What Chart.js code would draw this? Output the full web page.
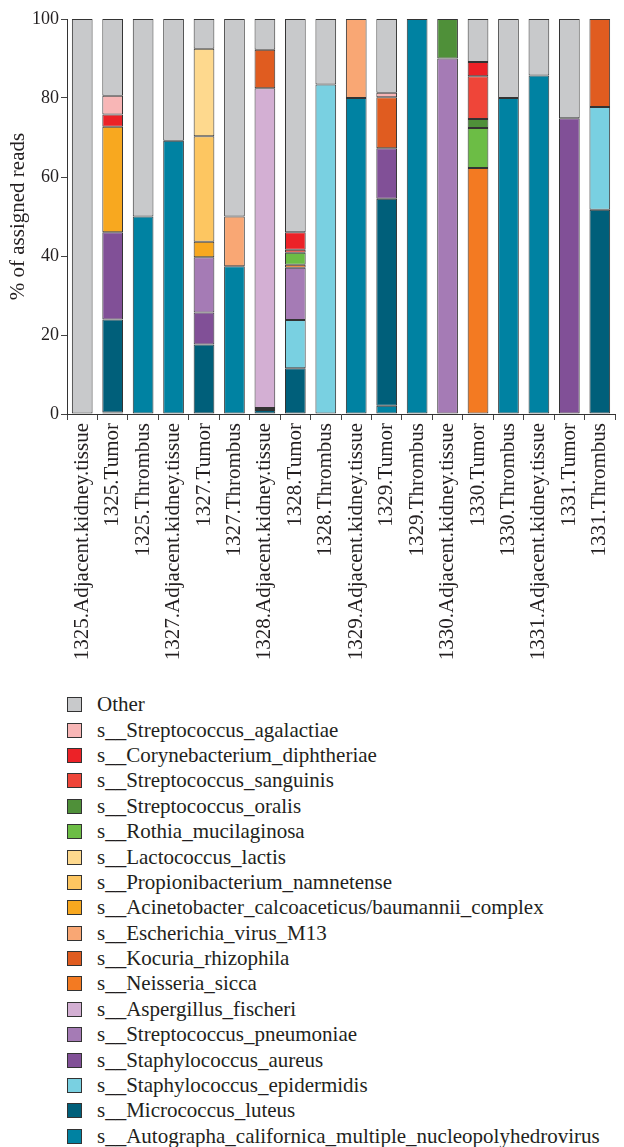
<!DOCTYPE html>
<html lang="en">
<head>
    <meta charset="UTF-8">
    <title>Assigned reads by sample</title>
    <script src="https://cdn.jsdelivr.net/npm/chart.js"></script>
    <style>
        body {
            margin: 0;
            background: #fff;
            overflow: hidden;
        }

        /* chart is a touch wider than the window, like the figure */
        #chart-container {
            position: relative;
            width: 628px;
            height: 670px;
        }

        #legend {
            position: absolute;
            left: 67px;
            top: 692px;
            margin: 0;
            padding: 0;
            list-style: none;
            font-family: "Liberation Serif", serif;
            font-size: 21px;
            color: #231f20;
        }

        #legend li {
            height: 25.4px;
            display: flex;
            align-items: center;
            white-space: nowrap;
        }

        #legend .box {
            width: 13px;
            height: 13px;
            border: 1px solid #333;
            margin-right: 15px;
            flex: none;
        }
    </style>
</head>
<body>

    <div id="chart-container">
        <canvas id="readsChart"></canvas>
    </div>
    <ul id="legend"></ul>

    <script>
        // samples on the x axis
        const samples = [
            '1325.Adjacent.kidney.tissue', '1325.Tumor', '1325.Thrombus',
            '1327.Adjacent.kidney.tissue', '1327.Tumor', '1327.Thrombus',
            '1328.Adjacent.kidney.tissue', '1328.Tumor', '1328.Thrombus',
            '1329.Adjacent.kidney.tissue', '1329.Tumor', '1329.Thrombus',
            '1330.Adjacent.kidney.tissue', '1330.Tumor', '1330.Thrombus',
            '1331.Adjacent.kidney.tissue', '1331.Tumor', '1331.Thrombus'
        ];

        const yTicks = [0, 20, 40, 60, 80, 100];

        // % of assigned reads per species (bottom of the stack first)
        const autographa        = [0, 0.4, 50.0, 69.2, 0, 37.4, 0, 0, 0, 80.0, 2.1, 100, 0, 0, 80.0, 85.7, 0, 0];
        const micrococcus       = [0, 23.5, 0, 0, 17.6, 0, 1.0, 11.6, 0, 0, 52.4, 0, 0, 0, 0, 0, 0, 51.7];
        const staphEpidermidis  = [0, 0, 0, 0, 0, 0, 0, 12.2, 83.4, 0, 0, 0, 0, 0, 0, 0, 0, 26.0];
        const staphAureus       = [0, 22.1, 0, 0, 8.1, 0, 0.5, 0, 0, 0, 12.8, 0, 0, 0, 0, 0, 74.9, 0];
        const strepPneumoniae   = [0, 0, 0, 0, 14.0, 0, 0, 13.2, 0, 0, 0, 0, 90.0, 0, 0, 0, 0, 0];
        const aspergillus       = [0, 0, 0, 0, 0, 0, 81.0, 0, 0, 0, 0, 0, 0, 0, 0, 0, 0, 0];
        const neisseria         = [0, 0, 0, 0, 0, 0, 0, 0.8, 0, 0, 0, 0, 0, 62.3, 0, 0, 0, 0];
        const kocuria           = [0, 0, 0, 0, 0, 0, 9.7, 0, 0, 0, 12.9, 0, 0, 0, 0, 0, 0, 22.3];
        const escherichiaVirus  = [0, 0, 0, 0, 0, 12.6, 0, 0, 0, 20.0, 0, 0, 0, 0, 0, 0, 0, 0];
        const acinetobacter     = [0, 26.7, 0, 0, 3.9, 0, 0, 0, 0, 0, 0, 0, 0, 0, 0, 0, 0, 0];
        const propionibacterium = [0, 0, 0, 0, 26.7, 0, 0, 0, 0, 0, 0, 0, 0, 0, 0, 0, 0, 0];
        const lactococcus       = [0, 0, 0, 0, 22.2, 0, 0, 0, 0, 0, 0, 0, 0, 0, 0, 0, 0, 0];
        const rothia            = [0, 0, 0, 0, 0, 0, 0, 3.0, 0, 0, 0, 0, 0, 10.1, 0, 0, 0, 0];
        const strepOralis       = [0, 0, 0, 0, 0, 0, 0, 0, 0, 0, 0, 0, 10.0, 2.3, 0, 0, 0, 0];
        const strepSanguinis    = [0, 0, 0, 0, 0, 0, 0, 0.8, 0, 0, 0, 0, 0, 10.8, 0, 0, 0, 0];
        const corynebacterium   = [0, 3.1, 0, 0, 0, 0, 0, 4.4, 0, 0, 0, 0, 0, 3.6, 0, 0, 0, 0];
        const strepAgalactiae   = [0, 4.8, 0, 0, 0, 0, 0, 0, 0, 0, 1.1, 0, 0, 0, 0, 0, 0, 0];
        const other             = [100, 19.4, 50.0, 30.8, 7.5, 50.0, 7.8, 54.0, 16.6, 0, 18.7, 0, 0, 10.9, 20.0, 14.3, 25.1, 0];

        // legend order, top to bottom
        const speciesNames = [
            'Other',
            's__Streptococcus_agalactiae',
            's__Corynebacterium_diphtheriae',
            's__Streptococcus_sanguinis',
            's__Streptococcus_oralis',
            's__Rothia_mucilaginosa',
            's__Lactococcus_lactis',
            's__Propionibacterium_namnetense',
            's__Acinetobacter_calcoaceticus/baumannii_complex',
            's__Escherichia_virus_M13',
            's__Kocuria_rhizophila',
            's__Neisseria_sicca',
            's__Aspergillus_fischeri',
            's__Streptococcus_pneumoniae',
            's__Staphylococcus_aureus',
            's__Staphylococcus_epidermidis',
            's__Micrococcus_luteus',
            's__Autographa_californica_multiple_nucleopolyhedrovirus'
        ];
        const speciesValues = [
            other, strepAgalactiae, corynebacterium, strepSanguinis, strepOralis,
            rothia, lactococcus, propionibacterium, acinetobacter, escherichiaVirus,
            kocuria, neisseria, aspergillus, strepPneumoniae, staphAureus,
            staphEpidermidis, micrococcus, autographa
        ];
        const speciesColors = [
            '#c8c9cb', '#f8b6b6', '#ec2227', '#ef4539', '#4f9039',
            '#6cbd45', '#fed98e', '#fdc661', '#f8a81f', '#f9a774',
            '#e05c20', '#f37a22', '#d3afd3', '#a57bb5', '#815097',
            '#79d0e1', '#005f7a', '#0082a2'
        ];

        const serif = 'Liberation Serif';
        const ink = '#231f20';

        // stack from the bottom: last legend entry goes first
        const datasets = speciesNames.map((name, i) => ({
            label: name,
            data: speciesValues[i],
            backgroundColor: speciesColors[i],
            borderColor: '#333',
            borderWidth: 1,
            borderSkipped: false,
            barPercentage: 0.68,
            categoryPercentage: 1.0
        })).reverse();

        const ctx = document.getElementById('readsChart').getContext('2d');
        const chart = new Chart(ctx, {
            type: 'bar',
            data: {
                labels: samples,
                datasets: datasets
            },
            options: {
                responsive: true,
                maintainAspectRatio: false,
                animation: false,
                layout: {
                    padding: { top: 19, right: 0, left: 0, bottom: 0 }
                },
                plugins: {
                    legend: { display: false },
                    tooltip: { enabled: false }
                },
                scales: {
                    x: {
                        stacked: true,
                        afterFit: (scale) => { scale.height = 256; },
                        grid: {
                            display: true,
                            drawOnChartArea: false,
                            drawTicks: true,
                            tickLength: 6,
                            color: '#444'
                        },
                        border: { display: true, color: '#333', width: 1 },
                        ticks: {
                            minRotation: 90,
                            maxRotation: 90,
                            autoSkip: false,
                            padding: 3,
                            color: ink,
                            font: { family: serif, size: 21 }
                        }
                    },
                    y: {
                        stacked: true,
                        min: 0,
                        max: 100,
                        afterFit: (scale) => { scale.width = 67; },
                        afterBuildTicks: (scale) => {
                            scale.ticks = yTicks.map(v => ({ value: v }));
                        },
                        grid: {
                            display: true,
                            drawOnChartArea: false,
                            drawTicks: true,
                            tickLength: 6,
                            color: '#444'
                        },
                        border: { display: true, color: '#333', width: 1 },
                        title: {
                            display: true,
                            text: '% of assigned reads',
                            color: ink,
                            padding: { top: 6, bottom: 0 },
                            font: { family: serif, size: 21 }
                        },
                        ticks: {
                            padding: 2,
                            color: ink,
                            font: { family: serif, size: 18 }
                        }
                    }
                }
            }
        });

        // one legend row per species, from the same arrays
        const legend = document.getElementById('legend');
        speciesNames.forEach((name, i) => {
            const li = document.createElement('li');
            const box = document.createElement('span');
            box.className = 'box';
            box.style.background = speciesColors[i];
            li.appendChild(box);
            li.appendChild(document.createTextNode(name));
            legend.appendChild(li);
        });
    </script>
</body>
</html>
